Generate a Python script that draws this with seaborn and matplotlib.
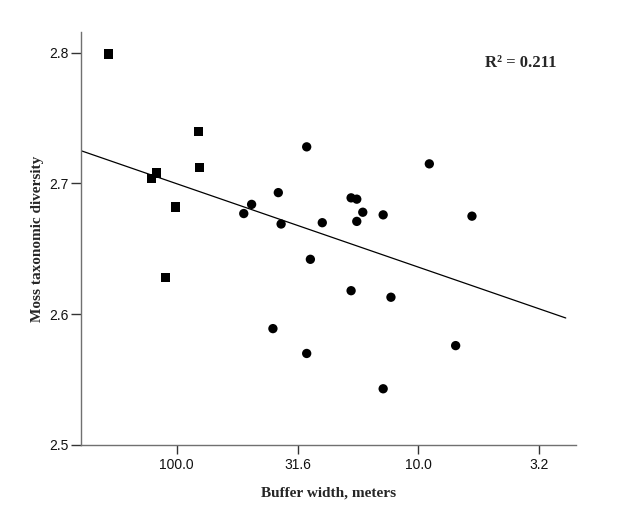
import numpy as np
import pandas as pd
import matplotlib
matplotlib.use("Agg")
import matplotlib.pyplot as plt
import seaborn as sns

# ---- data ----
square_width = [191.8, 81.4, 80.6, 121.4, 127.4, 101.3, 111.4]
square_div = [2.799, 2.740, 2.712, 2.708, 2.704, 2.682, 2.628]

circle_width = [29.0, 9.02, 38.0, 19.0, 18.0, 49.0, 52.8, 17.0, 14.0, 6.01,
                37.0, 25.0, 18.0, 28.0, 19.0, 13.0, 40.0, 7.02, 29.0, 14.0]
circle_div = [2.728, 2.715, 2.693, 2.689, 2.688, 2.684, 2.677, 2.678, 2.676, 2.675,
              2.669, 2.670, 2.671, 2.642, 2.618, 2.613, 2.589, 2.576, 2.570, 2.543]

xtick_labels = ["100.0", "31.6", "10.0", "3.2"]
ytick_vals = [2.5, 2.6, 2.7, 2.8]
ytick_labels = ["2.5", "2.6", "2.7", "2.8"]
r2_text = "R\u00b2 = 0.211"

df = pd.DataFrame({
    "width": square_width + circle_width,
    "diversity": square_div + circle_div,
    "group": ["square"] * len(square_width) + ["circle"] * len(circle_width),
})

sns.set_style("white")
plt.rcParams["font.family"] = ["Liberation Sans", "DejaVu Sans"]

fig = plt.figure(figsize=(6.25, 5.25), dpi=100)
ax = fig.add_axes([81 / 625, 1 - 445 / 525, (576 - 81) / 625, (445 - 32.3) / 525])

sns.scatterplot(data=df, x="width", y="diversity", style="group",
                markers={"square": "s", "circle": "o"}, color="black",
                s=45, linewidth=0, legend=False, ax=ax)

ax.set_xscale("log")
ax.set_xlim(10 ** 2.3958, 10 ** 0.3486)
ax.set_ylim(2.5, 2.8156)

# linear fit of diversity on log10(width)
lx = np.log10(df["width"].to_numpy())
slope, intercept = np.polyfit(lx, df["diversity"].to_numpy(), 1)
line_lx = np.array([2.393, 0.391])
ax.plot(10 ** line_lx, intercept + slope * line_lx, color="black", lw=0.9)

ax.set_xticks([10 ** 2, 10 ** 1.5, 10 ** 1, 10 ** 0.5])
ax.set_xticklabels(xtick_labels)
ax.minorticks_off()
ax.set_yticks(ytick_vals)
ax.set_yticklabels(ytick_labels)

for side in ["top", "right"]:
    ax.spines[side].set_visible(False)
for side in ["left", "bottom"]:
    ax.spines[side].set_color("#707070")
    ax.spines[side].set_linewidth(1.0)

ax.tick_params(axis="both", which="major", direction="out", color="#333333",
               width=1.0, labelsize=10, labelcolor="#111111",
               bottom=True, left=True, top=False, right=False)
ax.tick_params(axis="y", length=7, pad=2)
ax.tick_params(axis="x", length=6.5, pad=3)

ax.set_xlabel("Buffer width, meters", family=["Liberation Serif"], weight="bold",
              fontsize=11, labelpad=10)
ax.set_ylabel("Moss taxonomic diversity", family=["Liberation Serif"], weight="bold",
              fontsize=11, labelpad=4)

fig.text(521 / 625, 1 - 62.7 / 525, r2_text, family=["Liberation Serif"],
         weight="bold", fontsize=12, ha="center", va="center")

fig.savefig("out.png", dpi=100)
